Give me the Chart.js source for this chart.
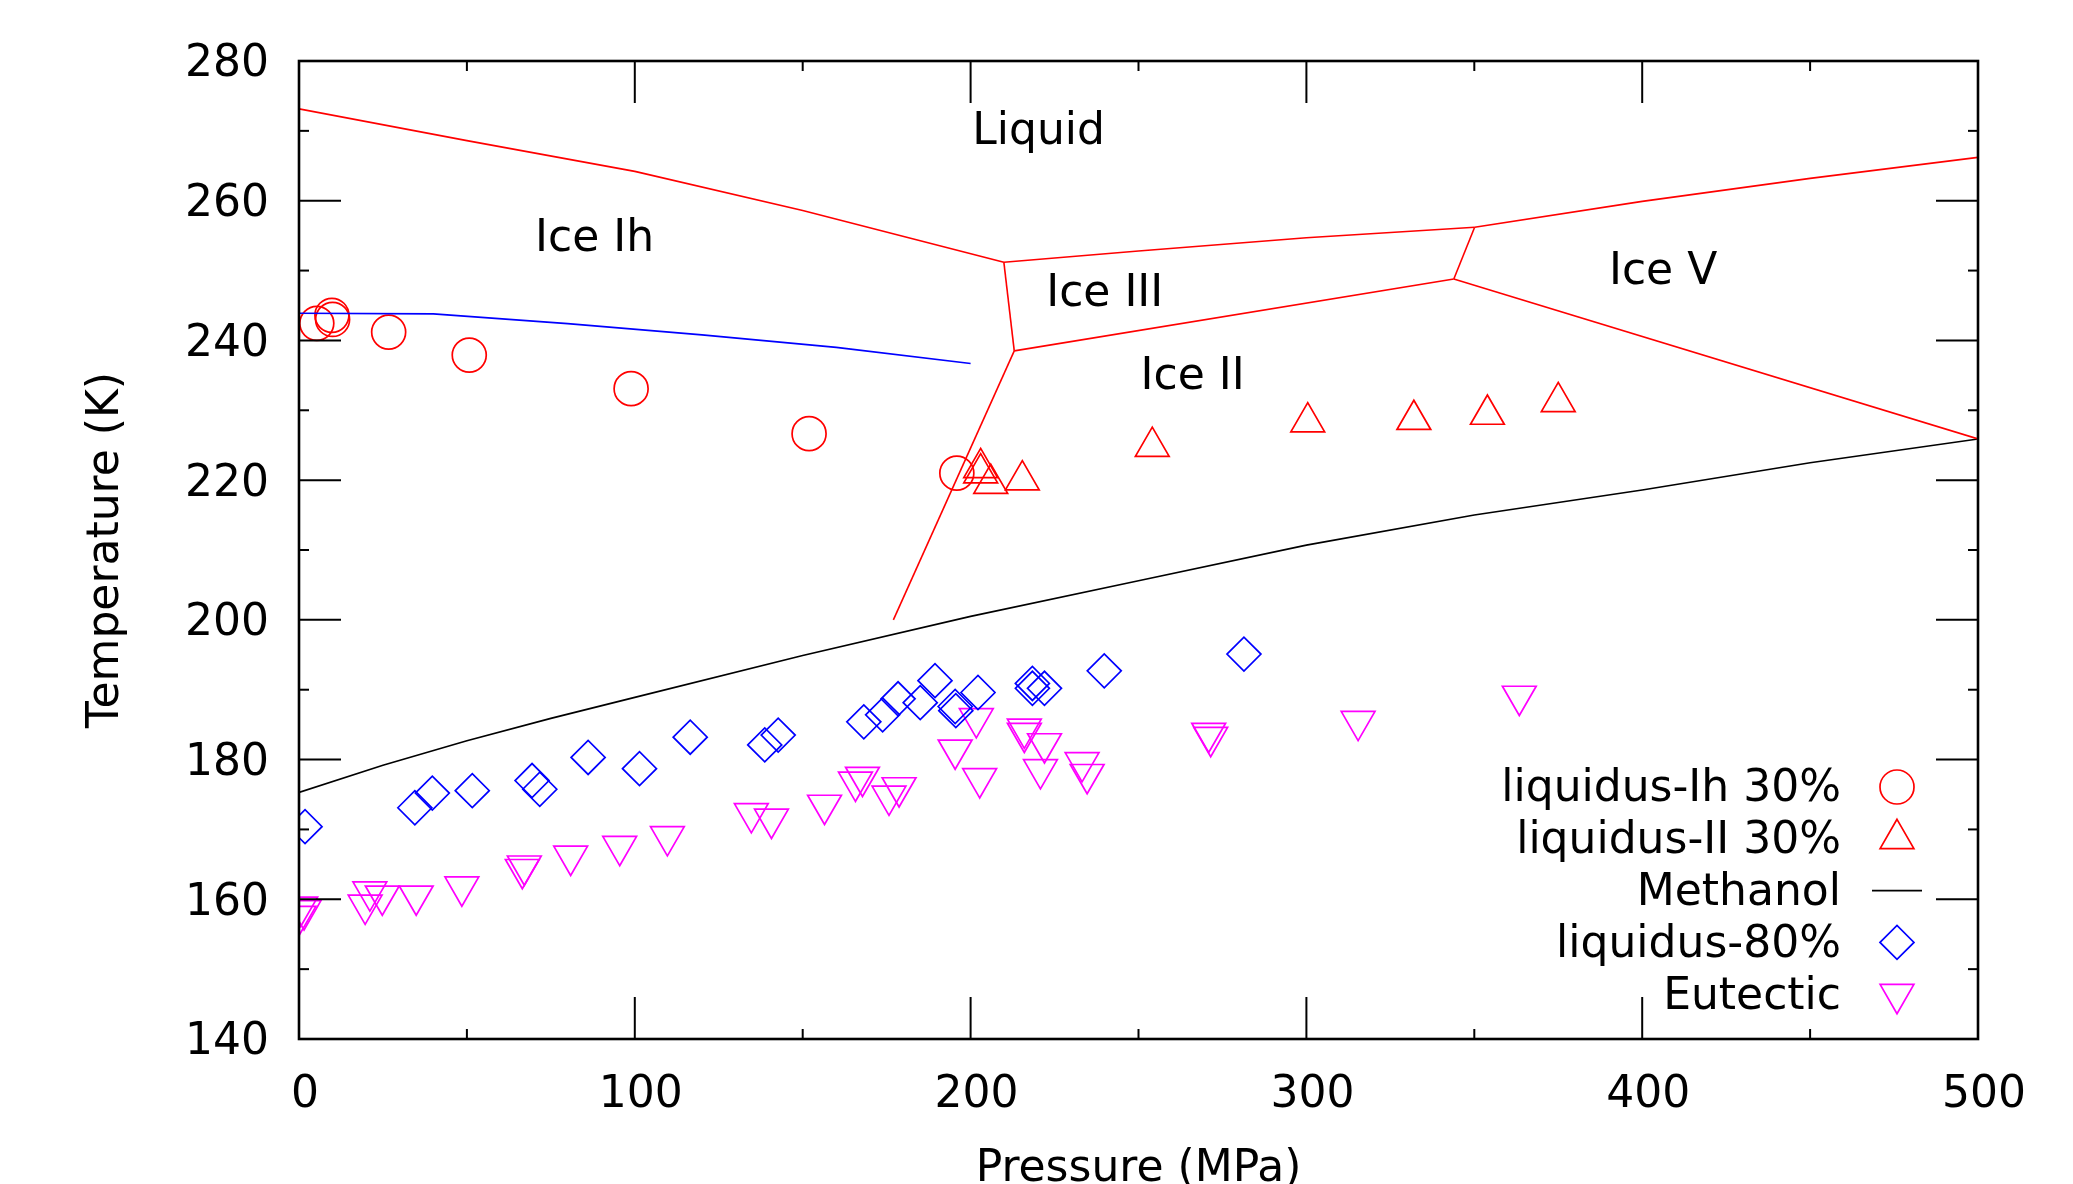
<!DOCTYPE html>
<html><head><meta charset="utf-8">
<script src="https://cdn.jsdelivr.net/npm/chart.js"></script>
<style>html,body{margin:0;padding:0;background:#fff;overflow:hidden}#wrap{width:2073px;height:1184px}</style>
</head><body><div id="wrap"><canvas id="c" width="2073" height="1184"></canvas></div>
<script>
// ---------- axis ticks ----------
const xTickValues = [0, 100, 200, 300, 400, 500];
const xMinorTicks = [50, 150, 250, 350, 450];
const yTickValues = [140, 160, 180, 200, 220, 240, 260, 280];
const yMinorTicks = [150, 170, 190, 210, 230, 250, 270];

// ---------- phase boundaries (pressure MPa, temperature K) ----------
const ihLiqP = [0, 50, 100, 150, 209.9];
const ihLiqT = [273.15, 268.6, 264.2, 258.6, 251.2];
const iiiLiqP = [209.9, 250, 300, 350.1];
const iiiLiqT = [251.2, 252.8, 254.7, 256.2];
const vLiqP = [350.1, 400, 450, 500];
const vLiqT = [256.2, 259.9, 263.2, 266.2];
const ihIiiP = [209.9, 213.0];
const ihIiiT = [251.2, 238.5];
const ihIiP = [213.0, 177.0];
const ihIiT = [238.5, 200.0];
const iiIiiP = [213.0, 343.9];
const iiIiiT = [238.5, 248.8];
const iiiVP = [343.9, 350.1];
const iiiVT = [248.8, 256.2];
const iiVP = [343.9, 500];
const iiVT = [248.8, 225.9];

// blue curve (Ih liquidus model)
const blueP = [0, 40, 80, 120, 160, 200];
const blueT = [243.9, 243.8, 242.4, 240.8, 239.0, 236.7];

// Methanol melting line
const methP = [0, 25, 50, 75, 100, 150, 200, 250, 300, 350, 400, 450, 500];
const methT = [175.3, 179.2, 182.7, 185.9, 188.9, 194.9, 200.5, 205.6, 210.7, 215.0, 218.6, 222.5, 225.9];

// ---------- measured points ----------
const ihP = [5.3, 9.8, 10.0, 26.7, 50.7, 98.9, 151.9, 195.9];
const ihT = [242.45, 243.6, 243.0, 241.2, 237.9, 233.1, 226.65, 221.0];

const iiP = [203.0, 203.0, 206.0, 215.4, 254.1, 300.4, 332.0, 353.9, 375.0];
const iiT = [221.75, 221.0, 219.5, 220.0, 224.8, 228.3, 228.65, 229.4, 231.2];

const l80P = [1.8, 34.5, 39.7, 51.6, 69.4, 71.7, 86.1, 101.4, 116.5, 138.7, 142.7, 168.2, 173.8, 178.4, 185.0, 189.4, 195.4, 195.6, 202.2, 218.4, 218.4, 222.0, 239.8, 281.4];
const l80T = [170.4, 173.1, 175.2, 175.55, 177.0, 175.75, 180.3, 178.7, 183.2, 182.1, 183.5, 185.4, 186.4, 188.7, 188.15, 191.3, 187.6, 187.0, 189.6, 190.9, 190.2, 190.2, 192.7, 195.1];

const eutP = [0.5, 1.5, 0, 21.1, 19.7, 24.8, 34.9, 48.5, 67.1, 66.5, 80.9, 95.5, 109.7, 134.7, 140.7, 156.5, 165.7, 167.8, 175.7, 178.7, 195.4, 201.7, 202.7, 216.0, 216.0, 222.0, 220.8, 233.2, 234.7, 270.9, 271.5, 315.4, 363.4];
const eutT = [158.9, 158.4, 157.6, 161.1, 159.2, 160.5, 160.5, 161.8, 164.8, 164.3, 166.2, 167.6, 169.0, 172.3, 171.5, 173.5, 176.8, 177.5, 174.8, 176.0, 181.4, 185.9, 177.3, 184.4, 183.8, 182.3, 178.6, 179.6, 177.9, 183.8, 183.2, 185.5, 189.1];

// ---------- region labels ----------
const regionText = ["Liquid", "Ice Ih", "Ice III", "Ice II", "Ice V"];
const regionP = [200.5, 70.3, 222.5, 250.6, 390.1];
const regionT = [270.3, 255.0, 247.2, 235.2, 250.3];

const legendOrder = ["liquidus-Ih 30%", "liquidus-II 30%", "Methanol", "liquidus-80%", "Eutectic"];

const FONT = "'DejaVu Sans', sans-serif";
const TEXT_DY = 4;
const pts = (P, T) => P.map((p, i) => ({x: p, y: T[i]}));

function boundary(P, T, color) {
  return {label: '', data: pts(P, T), showLine: true, borderColor: color, borderWidth: 1.6,
          pointRadius: 0, fill: false, tension: 0};
}

const datasets = [
  boundary(ihLiqP, ihLiqT, '#ff0000'),
  boundary(iiiLiqP, iiiLiqT, '#ff0000'),
  boundary(vLiqP, vLiqT, '#ff0000'),
  boundary(ihIiiP, ihIiiT, '#ff0000'),
  boundary(ihIiP, ihIiT, '#ff0000'),
  boundary(iiIiiP, iiIiiT, '#ff0000'),
  boundary(iiiVP, iiiVT, '#ff0000'),
  boundary(iiVP, iiVT, '#ff0000'),
  boundary(blueP, blueT, '#0000ff'),
  {label: 'liquidus-Ih 30%', data: pts(ihP, ihT), pointStyle: 'circle', pointRadius: 17, pointBorderWidth: 1.7,
   pointBorderColor: '#ff0000', pointBackgroundColor: 'rgba(0,0,0,0)', borderColor: '#ff0000', showLine: false},
  {label: 'liquidus-II 30%', data: pts(iiP, iiT), pointStyle: 'triangle', pointRadius: 19.5, pointBorderWidth: 1.7,
   pointBorderColor: '#ff0000', pointBackgroundColor: 'rgba(0,0,0,0)', borderColor: '#ff0000', showLine: false},
  {label: 'Methanol', data: pts(methP, methT), showLine: true, borderColor: '#000000', borderWidth: 1.6,
   pointRadius: 0, tension: 0},
  {label: 'liquidus-80%', data: pts(l80P, l80T), pointStyle: 'rectRot', pointRadius: 17, pointBorderWidth: 1.7,
   pointBorderColor: '#0000ff', pointBackgroundColor: 'rgba(0,0,0,0)', borderColor: '#0000ff', showLine: false},
  {label: 'Eutectic', data: pts(eutP, eutT), pointStyle: 'triangle', pointRotation: 180, pointRadius: 19.5, pointBorderWidth: 1.7,
   pointBorderColor: '#ff00ff', pointBackgroundColor: 'rgba(0,0,0,0)', borderColor: '#ff00ff', showLine: false}
];

function drawSymbol(ctx, style, rot, r, x, y) {
  ctx.beginPath();
  if (style === 'circle') {
    ctx.arc(x, y, r, 0, Math.PI * 2);
  } else if (style === 'triangle') {
    let a = (rot || 0) * Math.PI / 180;
    for (let k = 0; k < 3; k++) {
      const px = x + Math.sin(a) * r, py = y - Math.cos(a) * r;
      if (k === 0) ctx.moveTo(px, py); else ctx.lineTo(px, py);
      a += 2 * Math.PI / 3;
    }
    ctx.closePath();
  } else if (style === 'rectRot') {
    ctx.moveTo(x - r, y); ctx.lineTo(x, y - r); ctx.lineTo(x + r, y); ctx.lineTo(x, y + r);
    ctx.closePath();
  }
  ctx.stroke();
}

const framePlugin = {
  id: 'frame',
  afterDraw(chart) {
    const ctx = chart.ctx;
    const {left, right, top, bottom} = chart.chartArea;
    const xs = chart.scales.x, ys = chart.scales.y;
    ctx.save();
    ctx.strokeStyle = '#000';
    ctx.lineWidth = 2;
    const seg = (a, b, c, d) => { ctx.beginPath(); ctx.moveTo(a, b); ctx.lineTo(c, d); ctx.stroke(); };
    xTickValues.forEach(v => { const p = xs.getPixelForValue(v); seg(p, bottom, p, bottom - 42); seg(p, top, p, top + 42); });
    xMinorTicks.forEach(v => { const p = xs.getPixelForValue(v); seg(p, bottom, p, bottom - 10); seg(p, top, p, top + 10); });
    yTickValues.forEach(v => { const p = ys.getPixelForValue(v); seg(left, p, left + 42, p); seg(right, p, right - 42, p); });
    yMinorTicks.forEach(v => { const p = ys.getPixelForValue(v); seg(left, p, left + 10, p); seg(right, p, right - 10, p); });
    ctx.lineWidth = 2.6;
    ctx.strokeRect(left, top, right - left, bottom - top);

    // region labels
    ctx.fillStyle = '#000';
    ctx.font = '44px ' + FONT;
    ctx.textAlign = 'left';
    ctx.textBaseline = 'middle';
    regionText.forEach((t, i) => ctx.fillText(t, xs.getPixelForValue(regionP[i]), ys.getPixelForValue(regionT[i]) + TEXT_DY));

    // legend
    const rowY0 = 787, rowH = 51.8, textRight = 1841, symX = 1897;
    ctx.textAlign = 'right';
    legendOrder.forEach((name, i) => {
      const ds = chart.data.datasets.find(d => d.label === name);
      const y = rowY0 + i * rowH;
      ctx.fillStyle = '#000';
      ctx.fillText(name, textRight, y + TEXT_DY - 1);
      if (ds.pointStyle) {
        ctx.strokeStyle = ds.pointBorderColor;
        ctx.lineWidth = ds.pointBorderWidth;
        drawSymbol(ctx, ds.pointStyle, ds.pointRotation, ds.pointRadius, symX, y);
      } else {
        ctx.strokeStyle = ds.borderColor;
        ctx.lineWidth = ds.borderWidth;
        seg(symX - 25, y, symX + 25, y);
      }
    });
    ctx.restore();
  }
};

new Chart(document.getElementById('c'), {
  type: 'scatter',
  data: {datasets},
  plugins: [framePlugin],
  options: {
    responsive: false,
    animation: false,
    events: [],
    layout: {padding: {top: 61, right: 95, left: 0, bottom: 0}},
    plugins: {legend: {display: false}, tooltip: {enabled: false}},
    scales: {
      x: {
        type: 'linear', min: 0, max: 500,
        afterBuildTicks: s => { s.ticks = xTickValues.map(v => ({value: v})); },
        afterFit: s => { s.height = 145; },
        grid: {display: false, drawTicks: false},
        border: {display: false},
        ticks: {color: '#000', font: {family: FONT, size: 44, lineHeight: 1.2}, padding: 30, labelOffset: 6, maxRotation: 0},
        title: {display: true, text: 'Pressure (MPa)', color: '#000', font: {family: FONT, size: 44, lineHeight: 1}, padding: {top: 0, bottom: -8}}
      },
      y: {
        type: 'linear', min: 140, max: 280,
        afterBuildTicks: s => { s.ticks = yTickValues.map(v => ({value: v})); },
        afterFit: s => { s.width = 299; },
        grid: {display: false, drawTicks: false},
        border: {display: false},
        ticks: {color: '#000', font: {family: FONT, size: 44, lineHeight: 1.2}, padding: 30, labelOffset: 4},
        title: {display: true, text: 'Temperature (K)', color: '#000', font: {family: FONT, size: 44, lineHeight: 1}, padding: {top: 85, bottom: 0}}
      }
    }
  }
});
</script></body></html>
